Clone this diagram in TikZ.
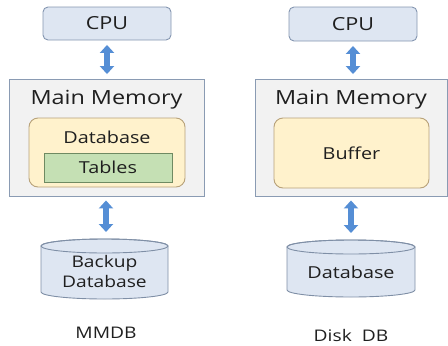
\documentclass[tikz,border=0pt]{standalone}
\usepackage{fontspec}
\setmainfont{Open Sans}[FakeStretch=1.2]
\usetikzlibrary{arrows.meta}
\definecolor{cpuf}{HTML}{DEE6F2}
\definecolor{cpub}{HTML}{8496B0}
\definecolor{memf}{HTML}{F2F2F2}
\definecolor{memb}{HTML}{8A9BB3}
\definecolor{dbf}{HTML}{FFF2CC}
\definecolor{dbb}{HTML}{B8A27A}
\definecolor{tabf}{HTML}{C5E0B4}
\definecolor{tabb}{HTML}{6F8A62}
\definecolor{cylf}{HTML}{DEE6F2}
\definecolor{cylb}{HTML}{7F8FA6}
\definecolor{arr}{HTML}{558ED5}
\definecolor{txt}{HTML}{1F1F1F}
\tikzset{
  cpubox/.style={draw=cpub, fill=cpuf, rounded corners=5pt, line width=0.9pt, text=txt, font=\fontsize{18}{20}\selectfont, inner sep=0pt},
  membox/.style={draw=memb, fill=memf, line width=0.9pt, inner sep=0pt},
  dbbox/.style={draw=dbb, fill=dbf, rounded corners=9pt, line width=0.9pt, inner sep=0pt},
  tabbox/.style={draw=tabb, fill=tabf, line width=0.9pt, inner sep=0pt, text=txt, font=\fontsize{16.5}{18}\selectfont},
  lbl/.style={text=txt, inner sep=0pt},
  cyl/.style={draw=cylb, fill=cylf, line width=0.9pt},
  dblarrow/.style={line width=6pt, draw=arr, {Triangle[width=14pt,length=8pt]}-{Triangle[width=14pt,length=8pt]}},
}
\begin{document}
\begin{tikzpicture}[x=1pt,y=1pt]
\useasboundingbox (0,0) rectangle (448,-346);
% ---------- left: MMDB ----------
\node[cpubox, minimum width=128pt, minimum height=33pt] (cpuL) at (107,-23.5) {CPU};
\node[membox, minimum width=195pt, minimum height=117pt] (mmL) at (106.5,-137.5) {};
\node[lbl, font=\fontsize{19.5}{21}\selectfont] (mmLt) at (106.5,-100) {Main Memory};
\node[dbbox, minimum width=156pt, minimum height=69pt] (dbL) at (107,-152.5) {};
\node[lbl, font=\fontsize{16.5}{18}\selectfont] (dbLt) at (107,-137) {Database};
\node[tabbox, minimum width=128pt, minimum height=29pt] (tabL) at (108,-167.5) {Tables};
% cylinder left
\path[cyl] (41,-246) -- (41,-292) arc[start angle=180,end angle=360,x radius=63.5pt,y radius=7pt] -- (168,-246) arc[start angle=0,end angle=180,x radius=63.5pt,y radius=7pt] -- cycle;
\draw[cyl, fill=none] (104.5,-246) ellipse[x radius=63.5pt,y radius=7pt];
\node[lbl, font=\fontsize{16}{20}\selectfont, align=center] (bkL) at (104.5,-271.5) {Backup\\Database};
\coordinate (bkLtop) at (106,-239);
\node[lbl, font=\fontsize{16}{18}\selectfont] (capL) at (106,-333) {MMDB};
\draw[dblarrow, shorten <=4.5pt, shorten >=4.5pt] (cpuL.south) -- (cpuL.south |- mmL.north);
\draw[dblarrow, shorten <=4pt, shorten >=7pt] (mmL.south -| bkLtop) -- (bkLtop);
% ---------- right: Disk DB ----------
\node[cpubox, minimum width=128pt, minimum height=34pt] (cpuR) at (353,-24) {CPU};
\node[membox, minimum width=192pt, minimum height=117pt] (mmR) at (351,-137.5) {};
\node[lbl, font=\fontsize{19.5}{21}\selectfont] (mmRt) at (351,-100) {Main Memory};
\node[dbbox, minimum width=155pt, minimum height=70pt, text=txt, font=\fontsize{16.5}{18}\selectfont] (bufR) at (351.5,-153) {Buffer};
% cylinder right
\path[cyl] (287,-247) -- (287,-290) arc[start angle=180,end angle=360,x radius=64pt,y radius=7pt] -- (415,-247) arc[start angle=0,end angle=180,x radius=64pt,y radius=7pt] -- cycle;
\draw[cyl, fill=none] (351,-247) ellipse[x radius=64pt,y radius=7pt];
\node[lbl, font=\fontsize{16.5}{18}\selectfont] (dskR) at (351,-272) {Database};
\coordinate (dskRtop) at (351,-240);
\node[lbl, font=\fontsize{16}{18}\selectfont] (capR) at (351,-335) {Disk\ \ DB};
\draw[dblarrow, shorten <=4.5pt, shorten >=4.5pt] (cpuR.south) -- (cpuR.south |- mmR.north);
\draw[dblarrow, shorten <=4pt, shorten >=7pt] (mmR.south -| dskRtop) -- (dskRtop);
\end{tikzpicture}
\end{document}
